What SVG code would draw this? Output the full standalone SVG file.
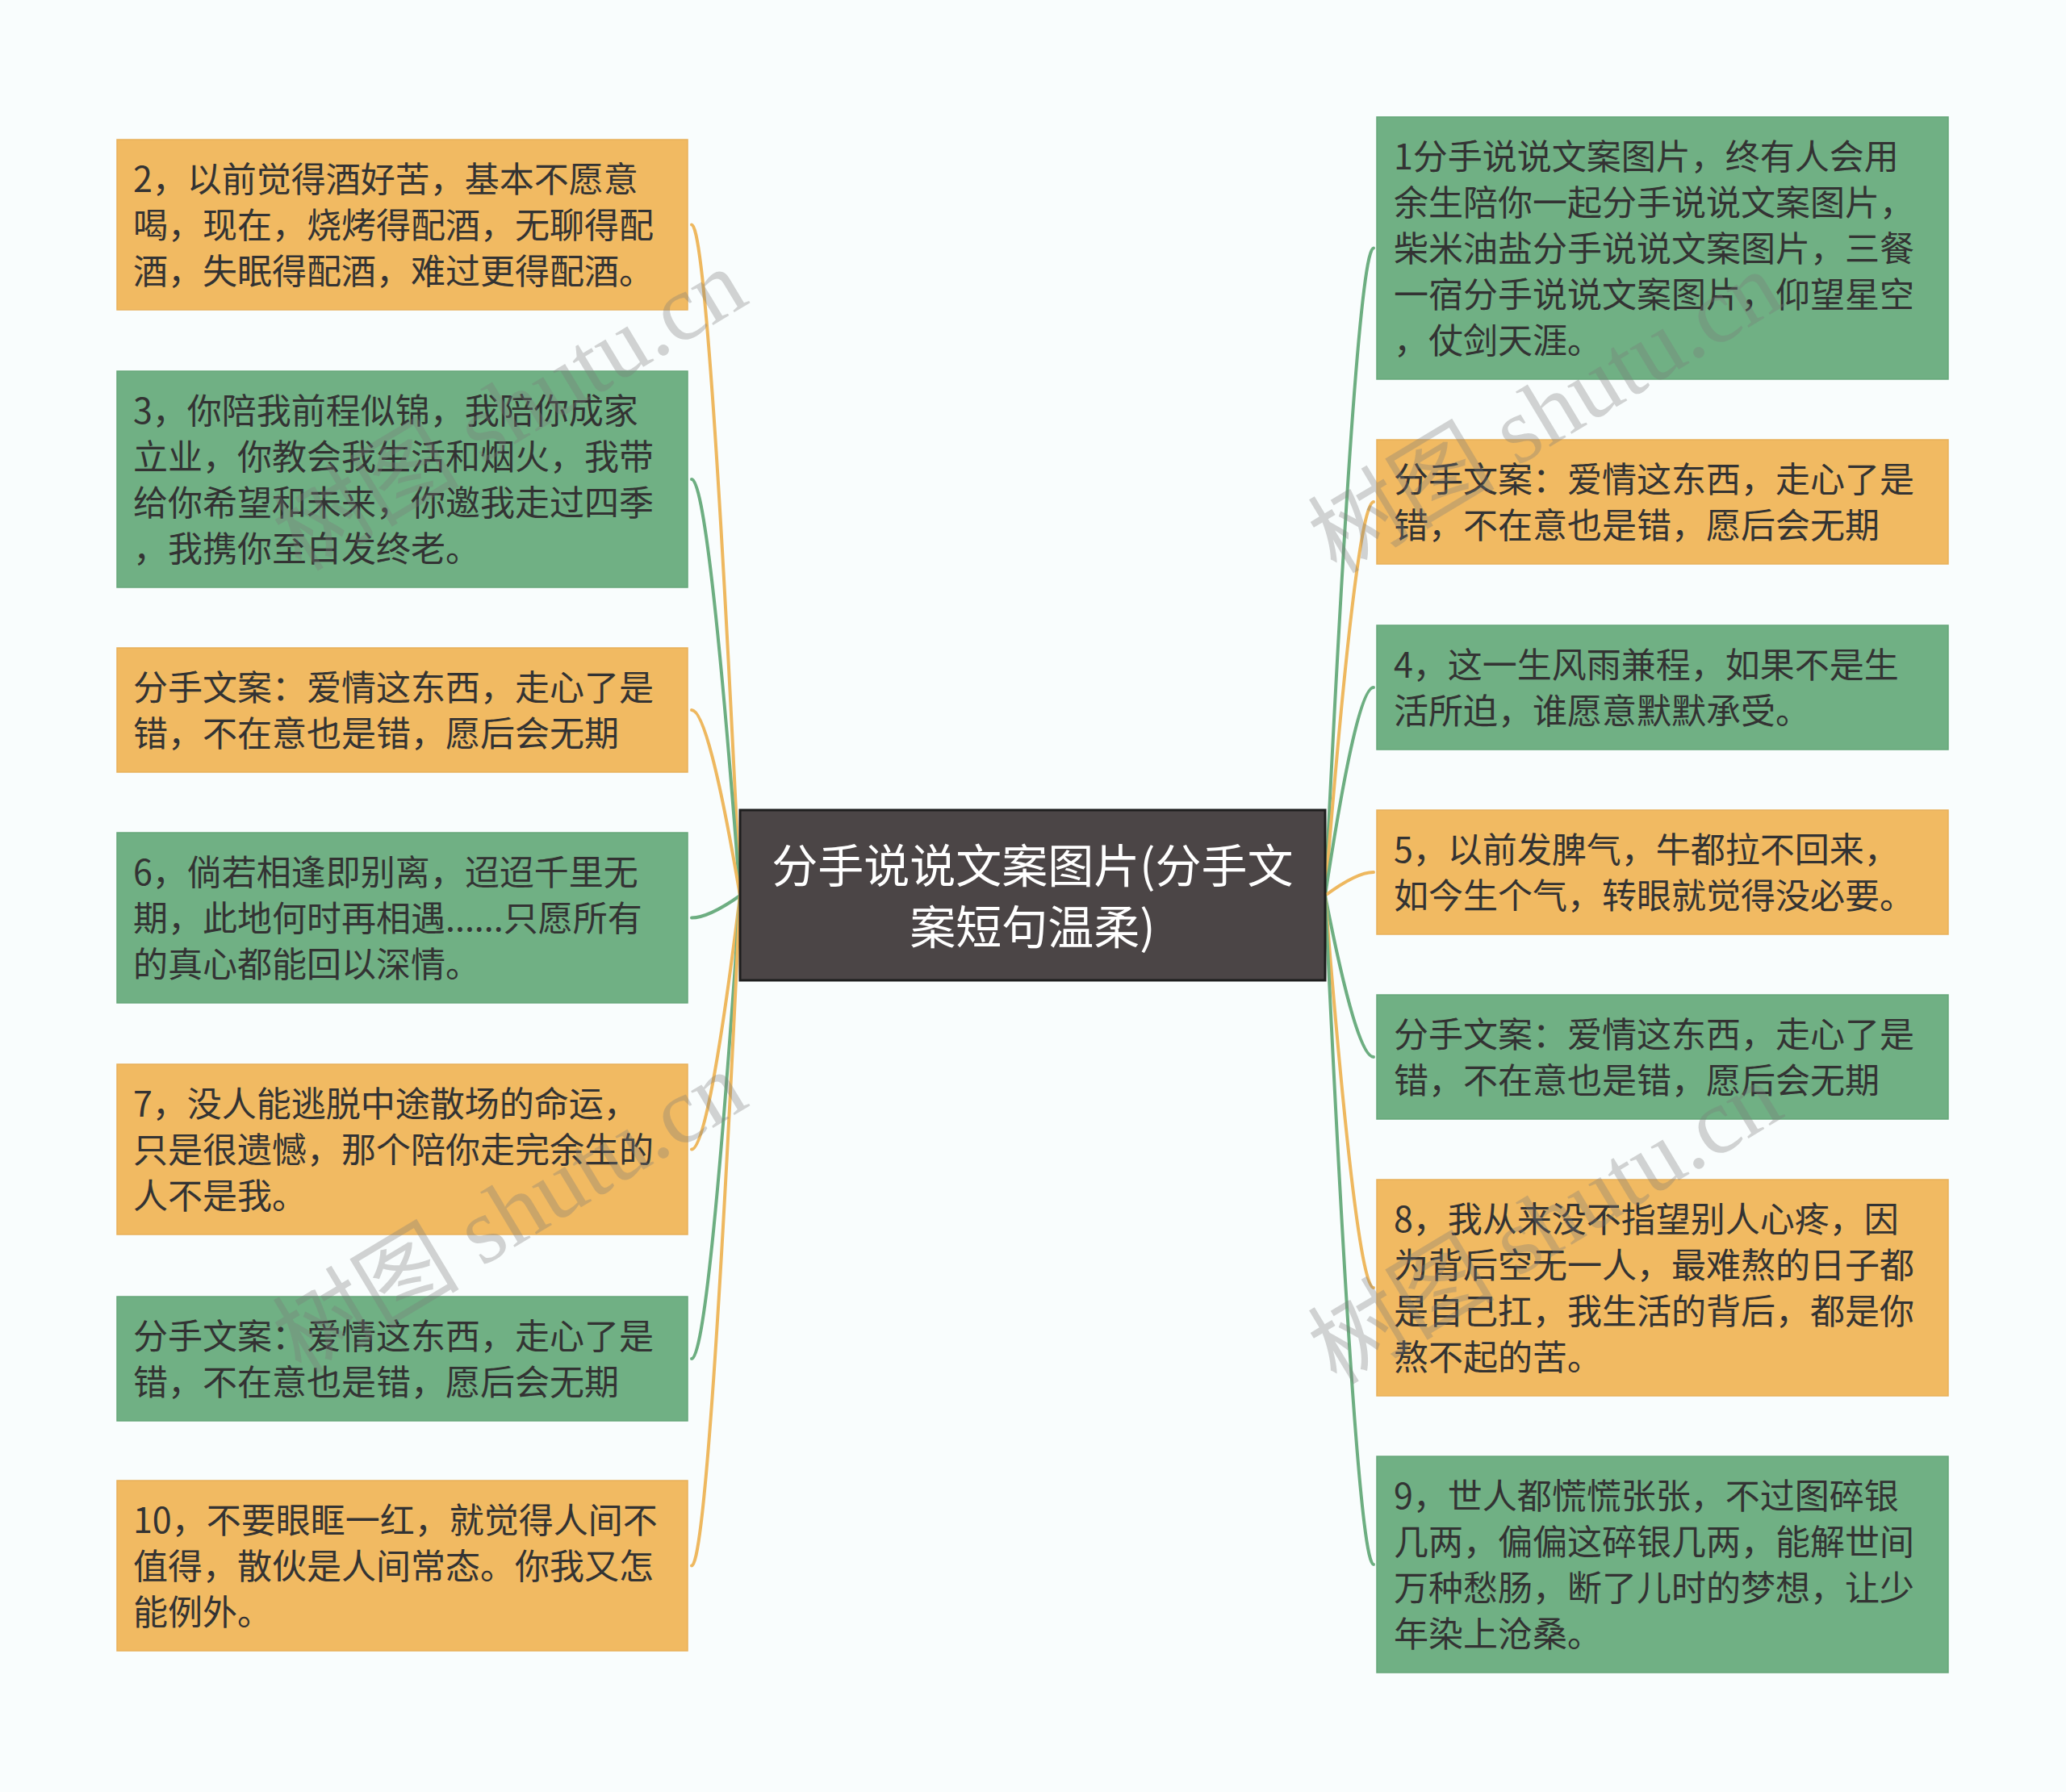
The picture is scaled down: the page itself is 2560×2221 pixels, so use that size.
<svg xmlns="http://www.w3.org/2000/svg" width="2560" height="2221" viewBox="0 0 2560 2221">
<style>
.bg{fill:#F9FDFD}
.o{fill:#F1BA62;stroke:#E8B05A;stroke-width:1.5}
.g{fill:#70B084;stroke:#66A779;stroke-width:1.5}
.t{font-family:"Noto Sans CJK SC","Noto Sans",sans-serif;font-size:43px;fill:#333333}
.ct{font-family:"Noto Sans CJK SC","Noto Sans",sans-serif;font-size:57px;fill:#FFFFFF;text-anchor:middle}
.lo{fill:none;stroke:#EEB85F;stroke-width:4;stroke-linecap:round}
.lg{fill:none;stroke:#6DAE81;stroke-width:4;stroke-linecap:round}
.wm{font-family:"Liberation Serif","Noto Sans CJK SC",serif;font-size:116px;fill:#7a7a7a;fill-opacity:0.32;text-anchor:middle}
</style>
<rect class="bg" x="0" y="0" width="2560" height="2221"/>
<g id="connectors">
<path class="lo" d="M917 1110 Q878 278.5 857 278.5"/>
<path class="lg" d="M917 1110 Q878 594 857 594"/>
<path class="lo" d="M917 1110 Q878 880 857 880"/>
<path class="lg" d="M917 1110 Q878 1137.5 857 1137.5"/>
<path class="lo" d="M917 1110 Q878 1424.5 857 1424.5"/>
<path class="lg" d="M917 1110 Q878 1684 857 1684"/>
<path class="lo" d="M917 1110 Q878 1940.5 857 1940.5"/>
<path class="lg" d="M1642 1110 Q1681 307.5 1702 307.5"/>
<path class="lo" d="M1642 1110 Q1681 622 1702 622"/>
<path class="lg" d="M1642 1110 Q1681 852 1702 852"/>
<path class="lo" d="M1642 1110 Q1681 1081 1702 1081"/>
<path class="lg" d="M1642 1110 Q1681 1310 1702 1310"/>
<path class="lo" d="M1642 1110 Q1681 1596 1702 1596"/>
<path class="lg" d="M1642 1110 Q1681 1939 1702 1939"/>
</g>
<g id="center">
<rect x="917" y="1004" width="725" height="211" fill="#4B4546" stroke="#1E1E1E" stroke-width="3"/>
<text class="ct" x="1279.5" y="1094">分手说说文案图片(分手文</text>
<text class="ct" x="1279.5" y="1170">案短句温柔)</text>
</g>
<g id="L1">
<rect class="o" x="145" y="173" width="707" height="211"/>
<text class="t" x="165" y="237.5">2，以前觉得酒好苦，基本不愿意</text>
<text class="t" x="165" y="294.5">喝，现在，烧烤得配酒，无聊得配</text>
<text class="t" x="165" y="351.5">酒，失眠得配酒，难过更得配酒。</text>
</g>
<g id="L2">
<rect class="g" x="145" y="460" width="707" height="268"/>
<text class="t" x="165" y="524.5">3，你陪我前程似锦，我陪你成家</text>
<text class="t" x="165" y="581.5">立业，你教会我生活和烟火，我带</text>
<text class="t" x="165" y="638.5">给你希望和未来，你邀我走过四季</text>
<text class="t" x="165" y="695.5">，我携你至白发终老。</text>
</g>
<g id="L3">
<rect class="o" x="145" y="803" width="707" height="154"/>
<text class="t" x="165" y="867.5">分手文案：爱情这东西，走心了是</text>
<text class="t" x="165" y="924.5">错，不在意也是错，愿后会无期</text>
</g>
<g id="L4">
<rect class="g" x="145" y="1032" width="707" height="211"/>
<text class="t" x="165" y="1096.5">6，倘若相逢即别离，迢迢千里无</text>
<text class="t" x="165" y="1153.5">期，此地何时再相遇......只愿所有</text>
<text class="t" x="165" y="1210.5">的真心都能回以深情。</text>
</g>
<g id="L5">
<rect class="o" x="145" y="1319" width="707" height="211"/>
<text class="t" x="165" y="1383.5">7，没人能逃脱中途散场的命运，</text>
<text class="t" x="165" y="1440.5">只是很遗憾，那个陪你走完余生的</text>
<text class="t" x="165" y="1497.5">人不是我。</text>
</g>
<g id="L6">
<rect class="g" x="145" y="1607" width="707" height="154"/>
<text class="t" x="165" y="1671.5">分手文案：爱情这东西，走心了是</text>
<text class="t" x="165" y="1728.5">错，不在意也是错，愿后会无期</text>
</g>
<g id="L7">
<rect class="o" x="145" y="1835" width="707" height="211"/>
<text class="t" x="165" y="1899.5">10，不要眼眶一红，就觉得人间不</text>
<text class="t" x="165" y="1956.5">值得，散伙是人间常态。你我又怎</text>
<text class="t" x="165" y="2013.5">能例外。</text>
</g>
<g id="R1">
<rect class="g" x="1706" y="145" width="708" height="325"/>
<text class="t" x="1727" y="209.5">1分手说说文案图片，终有人会用</text>
<text class="t" x="1727" y="266.5">余生陪你一起分手说说文案图片，</text>
<text class="t" x="1727" y="323.5">柴米油盐分手说说文案图片，三餐</text>
<text class="t" x="1727" y="380.5">一宿分手说说文案图片，仰望星空</text>
<text class="t" x="1727" y="437.5">，仗剑天涯。</text>
</g>
<g id="R2">
<rect class="o" x="1706" y="545" width="708" height="154"/>
<text class="t" x="1727" y="609.5">分手文案：爱情这东西，走心了是</text>
<text class="t" x="1727" y="666.5">错，不在意也是错，愿后会无期</text>
</g>
<g id="R3">
<rect class="g" x="1706" y="775" width="708" height="154"/>
<text class="t" x="1727" y="839.5">4，这一生风雨兼程，如果不是生</text>
<text class="t" x="1727" y="896.5">活所迫，谁愿意默默承受。</text>
</g>
<g id="R4">
<rect class="o" x="1706" y="1004" width="708" height="154"/>
<text class="t" x="1727" y="1068.5">5，以前发脾气，牛都拉不回来，</text>
<text class="t" x="1727" y="1125.5">如今生个气，转眼就觉得没必要。</text>
</g>
<g id="R5">
<rect class="g" x="1706" y="1233" width="708" height="154"/>
<text class="t" x="1727" y="1297.5">分手文案：爱情这东西，走心了是</text>
<text class="t" x="1727" y="1354.5">错，不在意也是错，愿后会无期</text>
</g>
<g id="R6">
<rect class="o" x="1706" y="1462" width="708" height="268"/>
<text class="t" x="1727" y="1526.5">8，我从来没不指望别人心疼，因</text>
<text class="t" x="1727" y="1583.5">为背后空无一人，最难熬的日子都</text>
<text class="t" x="1727" y="1640.5">是自己扛，我生活的背后，都是你</text>
<text class="t" x="1727" y="1697.5">熬不起的苦。</text>
</g>
<g id="R7">
<rect class="g" x="1706" y="1805" width="708" height="268"/>
<text class="t" x="1727" y="1869.5">9，世人都慌慌张张，不过图碎银</text>
<text class="t" x="1727" y="1926.5">几两，偏偏这碎银几两，能解世间</text>
<text class="t" x="1727" y="1983.5">万种愁肠，断了儿时的梦想，让少</text>
<text class="t" x="1727" y="2040.5">年染上沧桑。</text>
</g>
<g id="watermarks">
<text class="wm" transform="translate(652 542) rotate(-31)">树图 shutu.cn</text>
<text class="wm" transform="translate(1935 545) rotate(-31)">树图 shutu.cn</text>
<text class="wm" transform="translate(652 1537) rotate(-31)">树图 shutu.cn</text>
<text class="wm" transform="translate(1935 1550) rotate(-31)">树图 shutu.cn</text>
</g>
</svg>
